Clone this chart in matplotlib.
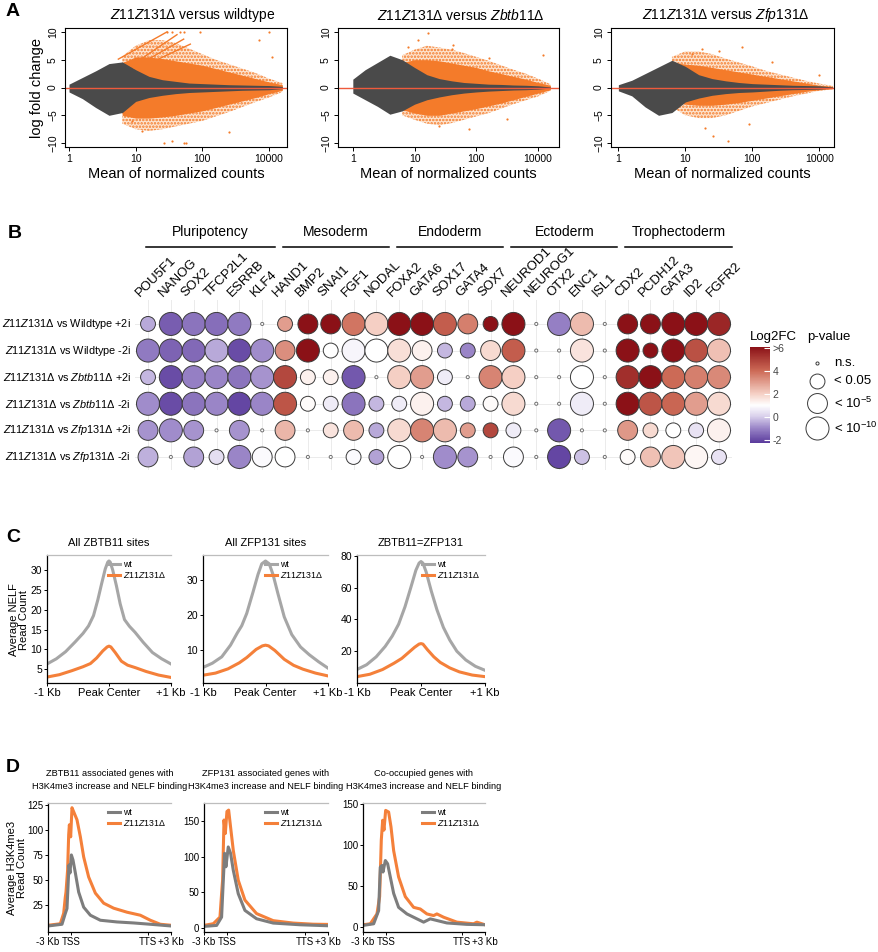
import numpy as np
import matplotlib
matplotlib.use('Agg')
import matplotlib.pyplot as plt
from matplotlib.colors import LinearSegmentedColormap, Normalize
from matplotlib.cm import ScalarMappable

plt.rcParams['font.family'] = ['Liberation Sans', 'DejaVu Sans']
plt.rcParams['mathtext.fontset'] = 'custom'
plt.rcParams['mathtext.rm'] = 'Liberation Sans'
plt.rcParams['mathtext.it'] = 'Liberation Sans:italic'
plt.rcParams['mathtext.bf'] = 'Liberation Sans:bold'
plt.rcParams['hatch.linewidth'] = 1.2

nan = np.nan

# ---------------- panel A: MA plots, cloud envelopes ----------------
ma_x = [0.0, 0.2, 0.4, 0.6, 0.8, 1.0, 1.2, 1.4, 1.6, 1.8, 2.0, 2.2, 2.4, 2.6, 2.8, 3.0, 3.2]
ma_titles = [r'$\mathit{Z11Z131Δ}$ versus wildtype',
             r'$\mathit{Z11Z131Δ}$ versus $\mathit{Zbtb11Δ}$',
             r'$\mathit{Z11Z131Δ}$ versus $\mathit{Zfp131Δ}$']
ma_xlims = [(-0.06, 3.27), (-0.24, 3.34), (-0.11, 3.22)]
ma_ticks = [0, 1, 2, 3]
ma_ticklabels = ['1', '10', '100', '10000']

wt_gray_hi = [0.6, 1.8, 3.0, 4.3, 4.6, 3.2, 2.0, 1.4, 1.1, 0.8, 0.7, 0.6, 0.5, 0.45, 0.4, 0.35, 0.2]
wt_gray_lo = [-0.8, -2.0, -3.6, -5.0, -4.5, -2.5, -1.8, -1.4, -1.1, -0.9, -0.8, -0.7, -0.6, -0.5, -0.45, -0.4, -0.2]
wt_or_hi = [nan, nan, nan, nan, 4.5, 5.5, 5.5, 5.2, 4.8, 4.4, 4.0, 3.4, 2.8, 2.2, 1.6, 1.0, 0.5]
wt_or_lo = [nan, nan, nan, nan, -5.0, -5.5, -5.5, -5.3, -5.0, -4.6, -4.2, -3.6, -3.0, -2.4, -1.8, -1.1, -0.5]
wt_sp_hi = [nan, nan, nan, nan, 5.6, 7.5, 8.5, 8.5, 8.0, 7.0, 6.0, 5.0, 4.2, 3.4, 2.6, 1.6, 0.8]
wt_sp_lo = [nan, nan, nan, nan, -6.5, -7.5, -7.8, -7.5, -7.0, -6.5, -6.0, -5.2, -4.4, -3.5, -2.6, -1.8, -0.8]

zb_gray_hi = [1.5, 3.2, 4.5, 5.8, 5.0, 3.6, 2.3, 1.6, 1.2, 0.9, 0.75, 0.6, 0.55, 0.45, 0.4, 0.3, 0.1]
zb_gray_lo = [-1.0, -2.2, -3.4, -4.8, -4.2, -3.0, -2.2, -1.7, -1.3, -1.0, -0.8, -0.65, -0.55, -0.45, -0.4, -0.3, -0.1]
zb_or_hi = [nan, nan, nan, nan, 4.5, 5.0, 5.0, 4.8, 4.4, 4.0, 3.6, 3.0, 2.5, 2.0, 1.5, 0.9, 0.4]
zb_or_lo = [nan, nan, nan, nan, -4.0, -4.6, -5.0, -5.0, -4.6, -4.2, -3.8, -3.3, -2.8, -2.2, -1.6, -1.0, -0.4]
zb_sp_hi = [nan, nan, nan, nan, 5.8, 6.8, 7.5, 7.2, 6.8, 6.2, 5.5, 4.8, 4.0, 3.2, 2.5, 1.6, 0.6]
zb_sp_lo = [nan, nan, nan, nan, -5.0, -5.8, -6.5, -6.8, -6.4, -5.8, -5.2, -4.6, -3.8, -3.0, -2.3, -1.6, -0.6]

zf_gray_hi = [0.5, 1.3, 2.5, 3.7, 4.9, 3.8, 2.3, 1.6, 1.2, 0.9, 0.7, 0.6, 0.5, 0.4, 0.35, 0.3, 0.1]
zf_gray_lo = [-0.6, -1.5, -3.5, -5.0, -4.5, -2.6, -1.9, -1.4, -1.1, -0.9, -0.8, -0.65, -0.5, -0.4, -0.35, -0.3, -0.1]
zf_or_hi = [nan, nan, nan, nan, 4.5, 4.2, 4.0, 3.6, 3.2, 2.8, 2.4, 2.0, 1.6, 1.2, 0.8, 0.4, 0.2]
zf_or_lo = [nan, nan, nan, nan, -2.5, -3.0, -3.2, -3.2, -3.0, -2.7, -2.3, -1.9, -1.5, -1.1, -0.7, -0.4, -0.2]
zf_sp_hi = [nan, nan, nan, nan, 5.5, 6.5, 6.5, 6.0, 5.2, 4.5, 3.8, 3.0, 2.4, 1.8, 1.2, 0.7, 0.3]
zf_sp_lo = [nan, nan, nan, nan, -3.5, -5.0, -5.5, -5.5, -5.0, -4.2, -3.4, -2.8, -2.2, -1.6, -1.1, -0.6, -0.3]

# saturated diagonal stripes (wildtype comparison) and a few outlying genes
wt_stripe_x0 = [0.74, 0.93, 0.97, 1.02]
wt_stripe_y0 = [5.1, 3.9, 3.6, 3.3]
wt_stripe_x1 = [1.47, 1.62, 1.72, 1.82]
wt_stripe_y1 = [10.0, 9.5, 8.7, 7.8]
wt_out_x = [1.47, 1.55, 1.67, 1.72, 1.97, 3.0, 1.42, 1.55, 1.72, 1.76, 2.85, 3.05, 1.1, 0.95, 2.4]
wt_out_y = [10.0, 10.0, 10.0, 10.0, 10.0, 10.0, -9.9, -9.6, -9.9, -9.9, 8.5, 5.5, -7.8, -6.0, -8.0]
zb_out_x = [1.22, 1.05, 1.62, 3.08, 1.89, 2.2, 1.4, 2.5, 1.6, 0.9]
zb_out_y = [9.8, 8.6, 7.7, 5.9, -7.5, 5.3, -6.9, -5.6, 7.0, 7.3]
zf_out_x = [1.85, 1.25, 1.5, 3.0, 1.64, 1.42, 1.95, 1.3, 1.1, 2.3]
zf_out_y = [7.2, 6.9, 6.6, 2.3, -9.6, -8.7, -6.5, -7.3, 6.0, 4.5]

# ---------------- panel B: bubble chart ----------------
genes = ['POU5F1', 'NANOG', 'SOX2', 'TFCP2L1', 'ESRRB', 'KLF4',
         'HAND1', 'BMP2', 'SNAI1', 'FGF1', 'NODAL',
         'FOXA2', 'GATA6', 'SOX17', 'GATA4', 'SOX7',
         'NEUROD1', 'NEUROG1', 'OTX2', 'ENC1', 'ISL1',
         'CDX2', 'PCDH12', 'GATA3', 'ID2', 'FGFR2']
groups = ['Pluripotency', 'Mesoderm', 'Endoderm', 'Ectoderm', 'Trophectoderm']
group_sizes = [6, 5, 5, 5, 5]
comparisons = [r'$\mathit{Z11Z131Δ}$ vs Wildtype +2i',
               r'$\mathit{Z11Z131Δ}$ vs Wildtype -2i',
               r'$\mathit{Z11Z131Δ}$ vs $\mathit{Zbtb11Δ}$ +2i',
               r'$\mathit{Z11Z131Δ}$ vs $\mathit{Zbtb11Δ}$ -2i',
               r'$\mathit{Z11Z131Δ}$ vs $\mathit{Zfp131Δ}$ +2i',
               r'$\mathit{Z11Z131Δ}$ vs $\mathit{Zfp131Δ}$ -2i']
log2fc = [
    [-0.5, -1.7, -1.3, -1.4, -1.2, nan, 3.0, 6.5, 6.5, 3.8, 2.0, 6.5, 6.5, 4.3, 3.6, 6.5, 6.5, nan, -1.1, 2.4, nan, 6.5, 6.5, 6.5, 6.5, 5.6],
    [-1.2, -1.6, -1.5, -0.5, -2.0, -0.9, 3.3, 6.5, 1.0, 0.8, 1.0, 1.7, 1.3, -0.3, -1.0, 1.8, 4.3, nan, nan, 1.6, nan, 6.5, 6.5, 6.5, 4.6, 2.3],
    [-0.3, -2.0, -1.1, -1.0, -1.3, -0.8, 4.8, 1.3, 1.3, -1.8, nan, 2.0, 3.0, 0.6, nan, 3.5, 2.0, nan, nan, 1.0, nan, 5.4, 6.5, 4.0, 3.6, 3.4],
    [-0.9, -2.0, -1.3, -1.0, -2.1, -1.0, 4.5, 1.1, 0.6, -1.3, -0.3, 0.6, 1.3, -0.3, -0.5, 1.1, 1.8, nan, nan, 0.6, nan, 6.5, 4.5, 4.1, 3.0, 1.8],
    [-0.8, -0.9, -0.8, nan, -0.8, nan, 2.5, nan, 1.6, 2.4, -0.5, 1.8, 3.5, 2.4, 3.0, 4.8, 0.6, nan, -1.8, nan, nan, 3.1, 1.8, 1.0, 0.4, 1.3],
    [-0.4, nan, -0.6, 0.3, -1.0, 0.9, 1.0, nan, nan, 0.9, -0.6, 1.0, nan, -0.9, -0.8, nan, 0.9, nan, -2.1, -0.2, nan, 1.1, 2.3, 2.2, 1.2, 0.4],
]
# p-value class: 0 n.s., 1 <0.05, 2 <1e-5, 3 <1e-10
pclass = [
    [1, 3, 3, 3, 3, 0, 1, 2, 2, 3, 3, 3, 3, 3, 2, 1, 3, 0, 3, 3, 0, 2, 2, 3, 3, 3],
    [3, 3, 3, 3, 3, 3, 2, 3, 1, 3, 3, 3, 2, 1, 1, 2, 3, 0, 0, 3, 0, 3, 1, 3, 3, 3],
    [1, 3, 3, 3, 3, 3, 3, 1, 1, 3, 0, 3, 3, 1, 0, 3, 3, 0, 0, 3, 0, 3, 3, 3, 3, 3],
    [3, 3, 3, 3, 3, 3, 3, 1, 1, 3, 1, 1, 3, 1, 1, 1, 3, 0, 0, 3, 0, 3, 3, 3, 3, 3],
    [2, 3, 2, 0, 2, 0, 2, 0, 1, 2, 1, 3, 3, 3, 1, 1, 1, 0, 3, 0, 0, 2, 1, 1, 1, 3],
    [2, 0, 2, 1, 3, 2, 2, 0, 0, 1, 1, 3, 0, 3, 2, 0, 2, 0, 3, 1, 0, 1, 2, 3, 3, 1],
]
p_labels = ['n.s.', '< 0.05', r'< 10$^{-5}$', r'< 10$^{-10}$']
p_sizes = [5, 115, 205, 275]
cb_ticks = [-2, 0, 2, 4, 6]
cb_ticklabels = ['-2', '0', '2', '4', '>6']

# ---------------- panel C: NELF profiles ----------------
c_titles = ['All ZBTB11 sites', 'All ZFP131 sites', 'ZBTB11=ZFP131']
c1_wt_x = [-1000, -850, -700, -550, -420, -330, -250, -180, -120, -60, -20, 0, 20, 60, 120, 180, 250, 330, 420, 550, 700, 850, 1000]
c1_wt_y = [6.3, 7.6, 9.4, 11.8, 14.0, 15.9, 18.5, 22.5, 26.5, 30.3, 32.0, 32.3, 32.0, 30.0, 26.0, 21.5, 17.5, 15.8, 14.3, 11.8, 9.2, 7.6, 6.3]
c1_ko_x = [-1000, -800, -600, -420, -300, -200, -100, -30, 0, 30, 100, 200, 300, 420, 600, 800, 1000]
c1_ko_y = [3.0, 3.6, 4.6, 5.6, 6.4, 7.8, 9.6, 10.6, 10.8, 10.6, 9.2, 7.0, 6.0, 5.4, 4.4, 3.5, 2.9]
c2_wt_x = [-1000, -850, -700, -560, -450, -380, -300, -200, -120, -60, 0, 60, 120, 200, 300, 420, 560, 700, 850, 1000]
c2_wt_y = [5.2, 6.4, 8.2, 11.5, 15.0, 17.0, 20.5, 26.5, 31.5, 34.5, 35.3, 34.5, 31.5, 26.0, 19.5, 14.5, 11.0, 8.8, 6.8, 5.0]
c2_ko_x = [-1000, -800, -600, -420, -300, -150, -50, 0, 50, 150, 300, 450, 600, 800, 1000]
c2_ko_y = [3.0, 3.6, 4.8, 6.5, 8.0, 10.3, 11.3, 11.5, 11.3, 10.0, 7.5, 5.8, 4.7, 3.6, 2.8]
c3_wt_x = [-1000, -850, -700, -560, -450, -350, -250, -160, -80, -30, 0, 30, 80, 160, 250, 350, 450, 560, 700, 850, 1000]
c3_wt_y = [8.5, 11.5, 16.5, 23.0, 29.5, 37.0, 48.0, 60.0, 71.0, 75.5, 76.5, 75.5, 70.0, 58.0, 46.0, 35.0, 27.0, 20.0, 14.5, 10.5, 8.0]
c3_ko_x = [-1000, -800, -600, -420, -300, -200, -100, -30, 0, 30, 100, 200, 300, 450, 600, 800, 1000]
c3_ko_y = [4.0, 5.5, 8.5, 12.5, 15.5, 19.0, 22.5, 24.5, 24.8, 24.5, 21.0, 16.5, 13.0, 9.5, 7.0, 5.0, 4.0]
c_ylims = [(1.5, 33.8), (0.8, 37.0), (0.0, 80.6)]
c_yticks = [[5, 10, 15, 20, 25, 30], [10, 20, 30], [20, 40, 60, 80]]

# ---------------- panel D: H3K4me3 metagene (x in kb, TSS = 0, TTS = 10) ----------------
d_titles = ['ZBTB11 associated genes with\nH3K4me3 increase and NELF binding',
            'ZFP131 associated genes with\nH3K4me3 increase and NELF binding',
            'Co-occupied genes with\nH3K4me3 increase and NELF binding']
d1_ko_x = [-3, -1.4, -0.96, -0.75, -0.66, -0.45, -0.31, -0.22, -0.05, 0.12, 0.34, 0.77, 1.21, 1.64, 2.29, 3.16, 4.24, 5.54, 7.28, 9.01, 10.31, 11.61, 13]
d1_ko_y = [5, 6.5, 17, 33, 38, 60, 95, 105, 93, 122, 118, 110, 93, 73, 53, 37, 27, 22, 18, 15, 10, 6, 5]
d1_wt_x = [-3, -1.18, -0.75, -0.53, -0.40, -0.27, -0.14, 0.04, 0.25, 0.56, 0.99, 1.64, 2.51, 3.81, 5.98, 8.14, 10.31, 13]
d1_wt_y = [4.3, 6, 16.7, 21.7, 43, 65, 57, 75, 70, 57, 38, 23, 15, 10, 8.3, 7.3, 6, 4.3]
d2_ko_x = [-3, -1.8, -0.94, -0.73, -0.6, -0.42, -0.25, -0.04, 0.18, 0.43, 0.78, 1.42, 2.28, 3.78, 5.93, 8.5, 11.08, 13]
d2_ko_y = [3.3, 5.7, 15, 48, 67, 152, 133, 164, 166, 142, 109, 67, 39, 20, 10, 6.6, 5, 4.7]
d2_wt_x = [-3, -1.37, -0.73, -0.51, -0.34, -0.17, 0.13, 0.43, 0.78, 1.42, 2.28, 3.78, 5.93, 9.4, 13]
d2_wt_y = [1.9, 3.3, 15, 67, 105, 86, 114, 105, 81, 48, 24.5, 12.7, 6.6, 4.2, 2.8]
d3_ko_x = [-3, -2.04, -1.17, -0.82, -0.6, -0.42, -0.25, -0.03, 0.36, 0.67, 1.02, 1.67, 2.55, 3.64, 4.51, 5.38, 6.26, 6.69, 7.57, 9.31, 11.5, 11.93, 13]
d3_ko_y = [2.8, 4, 16, 37, 106, 130, 118, 142, 140, 122, 93, 61, 37, 24, 22, 16, 14, 16, 12, 6, 4, 6, 2.8]
d3_wt_x = [-3, -1.6, -0.95, -0.73, -0.51, -0.38, -0.07, 0.23, 0.58, 1.02, 1.67, 2.76, 4.07, 4.95, 5.82, 6.69, 8.0, 10.6, 13]
d3_wt_y = [2, 4, 20, 73, 75, 67, 81, 77, 61, 41, 24, 16, 10, 6, 10, 8, 5, 3.3, 2.8]
d_ylims = [(-1.7, 126.7), (-6, 176), (-6, 151)]
d_yticks = [[25, 50, 75, 100, 125], [0, 50, 100, 150], [0, 50, 100, 150]]

ORANGE = '#f47b2a'
DARK = '#4a4a4a'
GREY_C = '#a6a6a6'
GREY_D = '#7d7d7d'
ORANGE_CD = '#f4803a'

W, H = 879, 952
fig = plt.figure(figsize=(W / 100, H / 100), dpi=100)


def px_axes(x0, y0, x1, y1):
    return fig.add_axes([x0 / W, 1 - y1 / H, (x1 - x0) / W, (y1 - y0) / H])


def letter(x, y, s):
    fig.text(x / W, 1 - y / H, s, fontsize=14, fontweight='bold', va='center', ha='left')


# ---- A ----
a_boxes = [(65, 28, 287, 147), (338, 28, 559, 147), (611, 28, 834, 147)]
a_title_x = [193, 461, 726]
clouds = [(wt_gray_lo, wt_gray_hi, wt_or_lo, wt_or_hi, wt_sp_lo, wt_sp_hi, wt_out_x, wt_out_y),
          (zb_gray_lo, zb_gray_hi, zb_or_lo, zb_or_hi, zb_sp_lo, zb_sp_hi, zb_out_x, zb_out_y),
          (zf_gray_lo, zf_gray_hi, zf_or_lo, zf_or_hi, zf_sp_lo, zf_sp_hi, zf_out_x, zf_out_y)]
for k, (box, cl) in enumerate(zip(a_boxes, clouds)):
    ax = px_axes(*box)
    glo, ghi, olo, ohi, slo, shi, ox, oy = cl
    ax.fill_between(ma_x, slo, shi, facecolor='#fde4d0', edgecolor=ORANGE, hatch='.....', linewidth=0)
    ax.fill_between(ma_x, olo, ohi, color=ORANGE, linewidth=0)
    if k == 0:
        for x0, y0, x1, y1 in zip(wt_stripe_x0, wt_stripe_y0, wt_stripe_x1, wt_stripe_y1):
            ax.plot([x0, x1], [y0, y1], color=ORANGE, lw=1.0)
    ax.scatter(ox, oy, s=2.5, color=ORANGE, linewidths=0)
    ax.fill_between(ma_x, glo, ghi, color=DARK, linewidth=0)
    ax.axhline(0, color='#ee5a3c', lw=1.0)
    ax.set_xlim(*ma_xlims[k])
    ax.set_ylim(-10.7, 10.7)
    ax.set_xticks(ma_ticks, ma_ticklabels)
    ax.set_yticks([-10, -5, 0, 5, 10])
    ax.tick_params(labelsize=7.5, length=3, width=0.7, pad=2)
    for lab in ax.get_yticklabels():
        lab.set_rotation(90)
        lab.set_va('center')
    for s in ax.spines.values():
        s.set_linewidth(0.8)
    ax.set_xlabel('Mean of normalized counts', fontsize=10.5, labelpad=2)
    if k == 0:
        ax.set_ylabel('log fold change', fontsize=10.5, labelpad=3)
    fig.text(a_title_x[k] / W, 1 - 15 / H, ma_titles[k], fontsize=10, ha='center', va='center')
letter(6, 12, 'A')

# ---- B ----
vmin, vmax = -2.3, 6.1
cmap_vals = [-2.3, -1.0, 0.0, 1.0, 2.0, 4.0, 6.1]
cmap_cols = ['#5a3b9c', '#9b86c8', '#d8cfeb', '#ffffff', '#f5d0c5', '#cd6b57', '#8b1117']
cmap = LinearSegmentedColormap.from_list(
    'l2fc', [((v - vmin) / (vmax - vmin), c) for v, c in zip(cmap_vals, cmap_cols)])
norm = Normalize(vmin, vmax, clip=True)

bx = px_axes(135, 300, 732, 470)
bx.set_xlim(-0.57, len(genes) - 0.43)
bx.set_ylim(5.49, -0.9)
bx.set_xticks(range(len(genes)))
bx.set_yticks(range(len(comparisons)))
bx.tick_params(length=0, labelbottom=False, labelleft=False)
bx.grid(True, color='#ebebeb', lw=0.7)
bx.set_axisbelow(True)
for s in bx.spines.values():
    s.set_visible(False)
fc = np.array(log2fc)
pc = np.array(pclass)
for r in range(len(comparisons)):
    cols = [cmap(norm(v)) if not np.isnan(v) else (1, 1, 1, 1) for v in fc[r]]
    sizes = [p_sizes[p] for p in pc[r]]
    edges = ['#707070' if p == 0 else '#3a3a3a' for p in pc[r]]
    bx.scatter(range(len(genes)), [r] * len(genes), s=sizes, c=cols, edgecolors=edges,
               linewidths=0.7, zorder=3)
    bx.text(-0.75, r, comparisons[r], ha='right', va='center', fontsize=7.8)
for i, g in enumerate(genes):
    bx.text(i - 0.25, -0.95, g, rotation=45, ha='left', va='bottom', rotation_mode='anchor',
            fontsize=9.5, clip_on=False)
start = 0
for g, n in zip(groups, group_sizes):
    a, b = start, start + n - 1
    bx.plot([a - 0.1, b + 0.55], [-2.9, -2.9], color='black', lw=1.1, clip_on=False)
    bx.text((a - 0.1 + b + 0.55) / 2, -3.45, g, ha='center', va='center', fontsize=10)
    start += n
letter(8, 233, 'B')

cax = px_axes(750, 347, 770, 443)
cb = fig.colorbar(ScalarMappable(norm=norm, cmap=cmap), cax=cax, ticks=cb_ticks)
cb.set_ticklabels(cb_ticklabels)
cb.outline.set_visible(False)
cax.tick_params(length=4, color='white', direction='in', labelsize=7.5, labelcolor='#444444', pad=2)
fig.text(750 / W, 1 - 337 / H, 'Log2FC', fontsize=9.5, va='center')

fig.text(807 / W, 1 - 337 / H, 'p-value', fontsize=9.5, va='center')
lx = px_axes(795, 350, 879, 445)
lx.set_xlim(795, 879)
lx.set_ylim(445, 350)
lx.axis('off')
leg_y = [363, 381, 403, 428]
for yy, s, lab in zip(leg_y, p_sizes, p_labels):
    lx.scatter([817], [yy], s=s, facecolors='white', edgecolors='#3a3a3a', linewidths=0.7)
    lx.text(834, yy, lab, fontsize=9.5, va='center', ha='left')


# ---- C / D shared style ----
def style_profile(ax, ysize, xsize):
    ax.spines['right'].set_visible(False)
    ax.spines['top'].set_color('#bdbdbd')
    ax.spines['top'].set_linewidth(0.9)
    ax.spines['left'].set_linewidth(0.9)
    ax.spines['bottom'].set_linewidth(0.9)
    ax.tick_params(length=2, width=0.7, pad=1.5)
    ax.tick_params(axis='y', labelsize=ysize)
    ax.tick_params(axis='x', labelsize=xsize)


def small_legend(ax, handles=None, labels=None):
    if handles is None:
        handles, labels = ax.get_legend_handles_labels()
    ax.legend(handles, labels, loc='upper right', frameon=False, fontsize=6.3, handlelength=1.3,
              handletextpad=0.4, borderaxespad=0.15, labelspacing=0.15, bbox_to_anchor=(1.0, 1.0))


# ---- C ----
c_boxes = [(47, 555, 171, 683), (203, 555, 328, 683), (357, 555, 485, 683)]
c_curves = [(c1_wt_x, c1_wt_y, c1_ko_x, c1_ko_y), (c2_wt_x, c2_wt_y, c2_ko_x, c2_ko_y),
            (c3_wt_x, c3_wt_y, c3_ko_x, c3_ko_y)]
for k, (box, cv) in enumerate(zip(c_boxes, c_curves)):
    ax = px_axes(*box)
    wx, wy, kx, ky = cv
    ax.plot(wx, wy, color=GREY_C, lw=2.2, label='wt')
    ax.plot(kx, ky, color=ORANGE_CD, lw=2.2, label=r'$\mathit{Z11Z131Δ}$')
    ax.set_xlim(-1000, 1000)
    ax.set_ylim(*c_ylims[k])
    ax.set_yticks(c_yticks[k])
    ax.set_xticks([-1000, 0, 1000], ['-1 Kb', 'Peak Center', '+1 Kb'])
    style_profile(ax, 7.5, 8)
    small_legend(ax)
    fig.text((box[0] + box[2]) / 2 / W, 1 - 543 / H, c_titles[k], fontsize=8,
             ha='center', va='center')
fig.text(19 / W, 1 - 620 / H, 'Average NELF\nRead Count', rotation=90, fontsize=8,
         ha='center', va='center', linespacing=0.95)
letter(6, 538, 'C')

# ---- D ----
d_boxes = [(48, 803, 171, 932), (204, 803, 328, 932), (363, 803, 485, 932)]
d_curves = [(d1_wt_x, d1_wt_y, d1_ko_x, d1_ko_y), (d2_wt_x, d2_wt_y, d2_ko_x, d2_ko_y),
            (d3_wt_x, d3_wt_y, d3_ko_x, d3_ko_y)]
for k, (box, cv) in enumerate(zip(d_boxes, d_curves)):
    ax = px_axes(*box)
    wx, wy, kx, ky = cv
    ax.plot(kx, ky, color=ORANGE_CD, lw=2.2, label=r'$\mathit{Z11Z131Δ}$')
    ax.plot(wx, wy, color=GREY_D, lw=2.2, label='wt')
    ax.set_xlim(-3, 13)
    ax.set_ylim(*d_ylims[k])
    ax.set_yticks(d_yticks[k])
    ax.set_xticks([-3, 0, 10, 13], ['-3 Kb', 'TSS', 'TTS', '+3 Kb'])
    style_profile(ax, 7, 7)
    h, l = ax.get_legend_handles_labels()
    small_legend(ax, h[::-1], l[::-1])
    fig.text((box[0] + box[2]) / 2 / W, 1 - 780 / H, d_titles[k], fontsize=6.7,
             ha='center', va='center', linespacing=1.6)
fig.text(17 / W, 1 - 868 / H, 'Average H3K4me3\nRead Count', rotation=90, fontsize=8,
         ha='center', va='center', linespacing=0.95)
letter(6, 767, 'D')

fig.savefig('out.png', dpi=100)
